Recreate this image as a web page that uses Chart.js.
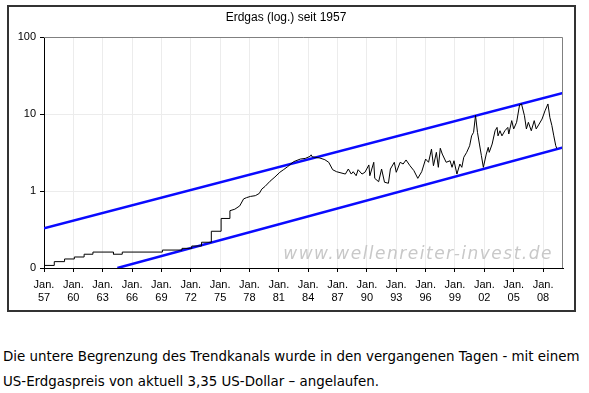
<!DOCTYPE html>
<html>
<head>
<meta charset="utf-8">
<script src="https://cdn.jsdelivr.net/npm/chart.js@4/dist/chart.umd.min.js"></script>
<style>
  body { margin: 0; background: #fff; width: 589px; height: 393px; position: relative; overflow: hidden; }
  #box { position: absolute; left: 7px; top: 5px; width: 565px; height: 303px; border: 2px solid #333; }
  #box canvas { display: block; }
  .txt { position: absolute; left: 3px; margin: 0; font-family: "DejaVu Sans", Verdana, sans-serif; font-size: 13.4px; line-height: 16px; color: #000; white-space: nowrap; }
</style>
</head>
<body>
<div id="box"><canvas id="chart" width="565" height="303"></canvas></div>
<p class="txt" style="top:349px">Die untere Begrenzung des Trendkanals wurde in den vergangenen Tagen - mit einem</p>
<p class="txt" style="top:374px">US-Erdgaspreis von aktuell 3,35 US-Dollar – angelaufen.</p>
<script>
// Erdgas price (USD, log scale); repeated years are the steps
const gasYears = [
  1957, 1958.05, 1958.05, 1959.1, 1959.1, 1960.1, 1960.1, 1961.1, 1961.1, 1962.0, 1962.0,
  1964.1, 1964.1, 1965.0, 1965.0, 1969.1, 1969.1, 1971.1, 1971.1, 1972.1, 1972.1,
  1973.1, 1973.1, 1974.1, 1974.1, 1975.1, 1975.1, 1976.0, 1976.0, 1976.5, 1977.0,
  1977.4, 1977.7, 1978.1, 1978.6, 1979.0, 1979.26, 1979.6, 1980.1, 1980.6, 1981.1,
  1981.5, 1981.9, 1982.5, 1983.2, 1983.7, 1984.2, 1984.3, 1984.4, 1985.2, 1985.7,
  1986.1, 1986.5, 1986.9, 1987.8, 1988.1, 1988.4, 1988.6, 1988.9, 1989.1, 1989.5,
  1989.8, 1990.2, 1990.3, 1990.7, 1990.8, 1991.2, 1991.5, 1991.8, 1992.2, 1992.4,
  1992.8, 1993.0, 1993.4, 1993.7, 1994.0, 1994.4, 1994.8, 1995.2, 1995.6, 1996.0,
  1996.3, 1996.6, 1996.8, 1997.1, 1997.3, 1997.5, 1997.7, 1998.1, 1998.5, 1998.7,
  1998.9, 1999.2, 1999.5, 1999.7, 1999.9, 2000.2, 2000.5, 2000.7, 2000.9, 2001.1,
  2001.3, 2001.5, 2001.7, 2001.9, 2002.2, 2002.4, 2002.5, 2002.8, 2003.1, 2003.3,
  2003.4, 2003.6, 2003.8, 2004.1, 2004.4, 2004.5, 2004.8, 2005.0, 2005.3, 2005.6,
  2005.8, 2006.1, 2006.3, 2006.5, 2006.8, 2007.1, 2007.3, 2007.6, 2007.9, 2008.2,
  2008.5, 2008.7, 2008.9, 2009.1, 2009.3, 2009.4
];
const gasPrices = [
  0.108, 0.108, 0.121, 0.121, 0.131, 0.131, 0.139, 0.139, 0.151, 0.151, 0.161,
  0.161, 0.151, 0.151, 0.161, 0.161, 0.171, 0.171, 0.180, 0.180, 0.193,
  0.193, 0.216, 0.216, 0.30, 0.30, 0.44, 0.44, 0.555, 0.58, 0.64,
  0.79, 0.82, 0.85, 0.87, 0.93, 1.06, 1.15, 1.34, 1.52, 1.75,
  1.90, 2.07, 2.40, 2.60, 2.65, 2.82, 2.95, 2.78, 2.68, 2.55,
  2.36, 1.89, 1.78, 1.66, 1.93, 1.66, 1.78, 1.58, 1.89, 1.66,
  1.75, 2.18, 1.58, 2.36, 1.46, 1.32, 1.93, 1.30, 1.26, 1.93,
  2.36, 1.75, 2.36, 2.24, 2.53, 2.13, 1.84, 1.46, 1.78, 2.60,
  2.36, 3.50, 2.13, 3.18, 2.03, 3.59, 3.02, 2.36, 2.47, 2.03,
  2.47, 1.66, 2.24, 2.03, 2.74, 3.18, 3.87, 5.20, 5.78, 9.60,
  5.78, 4.07, 2.88, 2.03, 3.02, 3.69, 3.18, 4.07, 6.06, 6.70,
  5.20, 6.06, 5.20, 6.06, 6.70, 5.50, 8.20, 6.40, 7.80, 13.1,
  13.5, 9.50, 6.40, 7.80, 6.06, 8.20, 6.40, 7.40, 8.60, 11.0,
  13.5, 9.00, 7.10, 5.20, 3.87, 3.59
];

// trend channel end points
const upperYears = [1957, 2010.04];
const upperValues = [0.327, 18.7];
const lowerYears = [1964.5, 2010.04];
const lowerValues = [0.1, 3.69];

const xTicks = [1957, 1960, 1963, 1966, 1969, 1972, 1975, 1978, 1981, 1984, 1987, 1990, 1993, 1996, 1999, 2002, 2005, 2008];
const yTicks = [0.1, 1, 10, 100];

const toPoints = (xs, ys) => xs.map((x, i) => ({ x: x, y: ys[i] }));

const frame = {
  id: 'frame',
  afterDraw(chart) {
    const a = chart.chartArea, c = chart.ctx;
    c.save();
    c.strokeStyle = '#808080';
    c.lineWidth = 1;
    c.beginPath();
    c.moveTo(a.left, a.top + 0.5);
    c.lineTo(a.right - 0.5, a.top + 0.5);
    c.lineTo(a.right - 0.5, a.bottom);
    c.stroke();
    c.restore();
  }
};

const watermark = {
  id: 'watermark',
  beforeDatasetsDraw(chart) {
    const a = chart.chartArea, c = chart.ctx;
    c.save();
    c.font = 'italic 17px "DejaVu Sans", Verdana, sans-serif';
    c.letterSpacing = '1.5px';
    c.fillStyle = '#c8c8c8';
    c.textAlign = 'right';
    c.textBaseline = 'middle';
    c.fillText('www.wellenreiter-invest.de', a.right - 10, a.bottom - 13);
    c.restore();
  }
};

new Chart(document.getElementById('chart'), {
  type: 'line',
  data: {
    datasets: [
      {
        data: toPoints(gasYears, gasPrices),
        borderColor: '#000',
        borderWidth: 1,
        pointRadius: 0,
        tension: 0
      },
      {
        data: toPoints(upperYears, upperValues),
        borderColor: '#0a0aff',
        borderWidth: 2.5,
        pointRadius: 0
      },
      {
        data: toPoints(lowerYears, lowerValues),
        borderColor: '#0a0aff',
        borderWidth: 2.5,
        pointRadius: 0
      }
    ]
  },
  options: {
    responsive: false,
    animation: false,
    layout: { padding: { right: 11, left: 0, bottom: 0, top: 0 } },
    plugins: {
      legend: { display: false },
      tooltip: { enabled: false },
      title: {
        display: true,
        text: 'Erdgas (log.) seit 1957',
        color: '#000',
        font: { family: '"Liberation Sans", Arial, sans-serif', size: 12, weight: 'normal' },
        padding: { top: 3, bottom: 12.6 }
      }
    },
    scales: {
      x: {
        type: 'linear',
        min: 1957,
        max: 2010.04,
        afterBuildTicks: (scale) => { scale.ticks = xTicks.map(v => ({ value: v })); },
        afterFit: (scale) => { scale.height = 42; },
        ticks: {
          color: '#000',
          padding: 6,
          maxRotation: 0,
          autoSkip: false,
          font: { family: '"Liberation Sans", Arial, sans-serif', size: 11 },
          callback: (v) => ['Jan.', String(v % 100).padStart(2, '0')]
        },
        grid: { color: '#ececec', tickColor: '#000', tickLength: 4 },
        border: { color: '#000', width: 1 }
      },
      y: {
        type: 'logarithmic',
        min: 0.1,
        max: 100,
        afterBuildTicks: (scale) => { scale.ticks = yTicks.map(v => ({ value: v })); },
        afterFit: (scale) => { scale.width = 35; },
        ticks: {
          color: '#000',
          padding: 4,
          font: { family: '"Liberation Sans", Arial, sans-serif', size: 11 },
          callback: (v) => v < 1 ? '0' : String(v)
        },
        grid: { color: '#ececec', tickColor: '#000', tickLength: 4 },
        border: { color: '#000', width: 1 }
      }
    }
  },
  plugins: [frame, watermark]
});
</script>
</body>
</html>
